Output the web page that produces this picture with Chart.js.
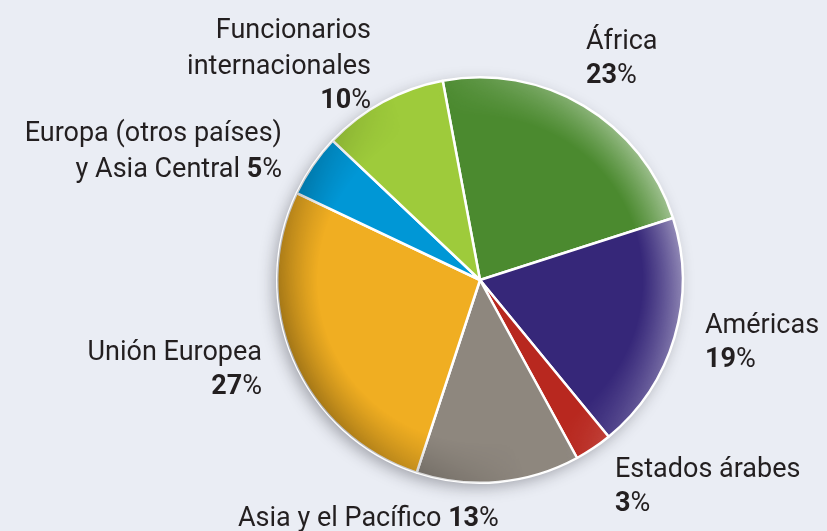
<!DOCTYPE html>
<html lang="es">
<head>
<meta charset="utf-8">
<title>Distribución por región</title>
<script src="https://cdn.jsdelivr.net/npm/chart.js@4.4.1/dist/chart.umd.min.js"></script>
<style>
    html, body { margin: 0; padding: 0; background: #eaedf4; }
    #wrap { width: 827px; height: 531px; position: relative; }
</style>
</head>
<body>
<div id="wrap"><canvas id="pie"></canvas></div>
<script>
// Data
const regions = ['África', 'Américas', 'Estados árabes', 'Asia y el Pacífico', 'Unión Europea', 'Europa (otros países) y Asia Central', 'Funcionarios internacionales'];
const shares = [23, 19, 3, 13, 27, 5, 10];
const sliceColors = ['#4b8a2f', '#362779', '#b8281f', '#8e877e', '#f0ae22', '#0097d6', '#9ecb3b'];

// Label layout (same order as regions): text lines, where the % goes, anchor and baselines
const labelLayout = [
    { lines: ['África'], pctInline: false, x: 586, y: 49, align: 'left' },
    { lines: ['Américas'], pctInline: false, x: 705, y: 333, align: 'left' },
    { lines: ['Estados árabes'], pctInline: false, x: 615, y: 477, align: 'left' },
    { lines: ['Asia y el Pacífico'], pctInline: true, x: 238, y: 526, align: 'left' },
    { lines: ['Unión Europea'], pctInline: false, x: 262, y: 360, align: 'right' },
    { lines: ['Europa (otros países)', 'y Asia Central'], pctInline: true, x: 282, y: 141, align: 'right' },
    { lines: ['Funcionarios', 'internacionales'], pctInline: false, x: 371, y: 38, align: 'right' }
];

const FONT_FAMILY = 'Roboto, "Liberation Sans", sans-serif';
const FONT_SIZE = 27;
const LINE_GAP = 36;

// Soft shadow under the pie
const pieShadow = {
    id: 'pieShadow',
    beforeDatasetsDraw(chart) {
        const arc = chart.getDatasetMeta(0).data[0];
        if (!arc) return;
        const ctx = chart.ctx;
        ctx.save();
        ctx.shadowColor = 'rgba(40,40,50,0.4)';
        ctx.shadowBlur = 16;
        ctx.shadowOffsetX = -4;
        ctx.shadowOffsetY = 5;
        ctx.fillStyle = '#888';
        ctx.beginPath();
        ctx.arc(arc.x, arc.y, arc.outerRadius - 1, 0, Math.PI * 2);
        ctx.fill();
        ctx.restore();
    }
};

// Rim shading: lighter on the right, darker on the left/bottom
const rimShade = {
    id: 'rimShade',
    afterDatasetsDraw(chart) {
        const arc = chart.getDatasetMeta(0).data[0];
        if (!arc) return;
        const r = arc.outerRadius;
        const size = Math.ceil(r * 2 + 4);
        const off = document.createElement('canvas');
        off.width = size;
        off.height = size;
        const o = off.getContext('2d');
        const c = size / 2;

        const lin = o.createLinearGradient(c + r, c - r * 0.35, c - r, c + r * 0.35);
        lin.addColorStop(0, 'rgba(255,255,255,0.5)');
        lin.addColorStop(0.45, 'rgba(255,255,255,0)');
        lin.addColorStop(0.55, 'rgba(0,0,0,0)');
        lin.addColorStop(1, 'rgba(0,0,0,0.35)');
        o.fillStyle = lin;
        o.beginPath();
        o.arc(c, c, r, 0, Math.PI * 2);
        o.fill();

        o.globalCompositeOperation = 'destination-in';
        const rad = o.createRadialGradient(c, c, r * 0.8, c, c, r);
        rad.addColorStop(0, 'rgba(0,0,0,0)');
        rad.addColorStop(1, 'rgba(0,0,0,1)');
        o.fillStyle = rad;
        o.fillRect(0, 0, size, size);

        chart.ctx.drawImage(off, arc.x - c, arc.y - c);
    }
};

// Draw one line made of [text, bold] runs
function drawRuns(ctx, runs, x, y, align) {
    const widths = runs.map(run => {
        ctx.font = (run[1] ? 'bold ' : '') + FONT_SIZE + 'px ' + FONT_FAMILY;
        return ctx.measureText(run[0]).width;
    });
    const total = widths.reduce((a, b) => a + b, 0);
    let cx = align === 'right' ? x - total : x;
    runs.forEach((run, i) => {
        ctx.font = (run[1] ? 'bold ' : '') + FONT_SIZE + 'px ' + FONT_FAMILY;
        ctx.fillText(run[0], cx, y);
        cx += widths[i];
    });
}

// Outside labels with bold percentage
const sliceLabels = {
    id: 'sliceLabels',
    afterDraw(chart) {
        const ctx = chart.ctx;
        ctx.save();
        ctx.fillStyle = '#231f20';
        ctx.textAlign = 'left';
        ctx.textBaseline = 'alphabetic';
        labelLayout.forEach((lay, i) => {
            const pctRuns = [[String(shares[i]), true], ['%', false]];
            let y = lay.y;
            lay.lines.forEach((line, j) => {
                const last = j === lay.lines.length - 1;
                let runs = [[line, false]];
                if (last && lay.pctInline) runs = runs.concat([[' ', false]], pctRuns);
                drawRuns(ctx, runs, lay.x, y, lay.align);
                y += LINE_GAP;
            });
            if (!lay.pctInline) drawRuns(ctx, pctRuns, lay.x, y - 2, lay.align);
        });
        ctx.restore();
    }
};

document.addEventListener('DOMContentLoaded', () => {
    const ctx = document.getElementById('pie').getContext('2d');
    new Chart(ctx, {
        type: 'pie',
        data: {
            labels: regions,
            datasets: [{
                data: shares,
                backgroundColor: sliceColors,
                borderColor: '#ffffff',
                borderWidth: 2.5
            }]
        },
        options: {
            responsive: true,
            maintainAspectRatio: false,
            animation: false,
            rotation: -10.6,
            layout: {
                padding: { left: 276, right: 143, top: 76, bottom: 47 }
            },
            plugins: {
                legend: { display: false },
                tooltip: { enabled: false }
            }
        },
        plugins: [pieShadow, rimShade, sliceLabels]
    });
});
</script>
</body>
</html>
